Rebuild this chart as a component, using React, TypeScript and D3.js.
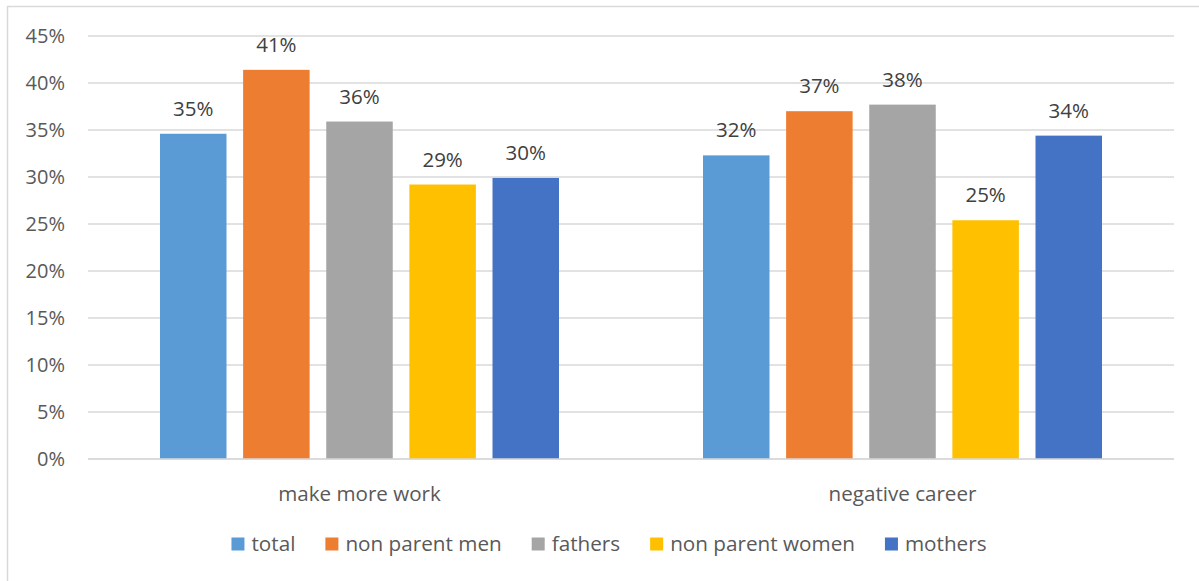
import React, { useEffect, useRef } from 'react';
import * as d3 from 'd3';

const categories = ['make more work', 'negative career'];
const seriesNames = ['total', 'non parent men', 'fathers', 'non parent women', 'mothers'];
const seriesColors = ['#5B9BD5', '#ED7D31', '#A5A5A5', '#FFC000', '#4472C4'];
// values per series, one per category
const total = [0.346, 0.323];
const nonParentMen = [0.414, 0.370];
const fathers = [0.359, 0.377];
const nonParentWomen = [0.292, 0.254];
const mothers = [0.299, 0.344];
const yTicks = [0, 0.05, 0.1, 0.15, 0.2, 0.25, 0.3, 0.35, 0.4, 0.45];

const W = 1199;
const H = 581;
const FONT = '"Open Sans", "Noto Sans", sans-serif';

const App: React.FC = () => {
  const ref = useRef<SVGSVGElement>(null);

  useEffect(() => {
    if (!ref.current) return;
    const svg = d3.select(ref.current);
    svg.selectAll('*').remove();

    const values = [total, nonParentMen, fathers, nonParentWomen, mothers];
    const rows = categories.map((c, ci) => ({
      category: c,
      bars: seriesNames.map((s, si) => ({ series: s, idx: si, value: values[si][ci] })),
    }));

    const left = 88, right = 1174, top = 36, bottom = 459;

    // chart border (only top/left show in the frame)
    svg.append('rect')
      .attr('x', 7.5).attr('y', 6.5)
      .attr('width', W + 20).attr('height', H + 20)
      .attr('fill', '#fff').attr('stroke', '#d9d9d9').attr('stroke-width', 1.5);

    const x0 = d3.scaleBand<string>().domain(categories).range([left, right]);
    const x1 = d3.scaleBand<string>().domain(seriesNames)
      .range([72, x0.bandwidth() - 72]).paddingInner(0.2);
    const y = d3.scaleLinear().domain([0, 0.45]).range([bottom, top]);

    // gridlines
    svg.append('g').selectAll('line')
      .data(yTicks)
      .enter().append('line')
      .attr('x1', left).attr('x2', right)
      .attr('y1', d => y(d)).attr('y2', d => y(d))
      .attr('stroke', '#d9d9d9').attr('stroke-width', 1.5);

    // y tick labels
    svg.append('g').selectAll('text')
      .data(yTicks)
      .enter().append('text')
      .attr('x', 65).attr('y', d => y(d))
      .attr('dy', '0.36em')
      .attr('text-anchor', 'end')
      .attr('font-family', FONT).attr('font-size', 20)
      .attr('fill', '#595959')
      .text(d => d3.format('.0%')(d));

    const group = svg.append('g').selectAll('g')
      .data(rows)
      .enter().append('g')
      .attr('transform', d => `translate(${x0(d.category)},0)`);

    group.selectAll('rect')
      .data(d => d.bars)
      .enter().append('rect')
      .attr('x', d => x1(d.series)!)
      .attr('y', d => y(d.value))
      .attr('width', x1.bandwidth())
      .attr('height', d => bottom - y(d.value))
      .attr('fill', d => seriesColors[d.idx]);

    group.selectAll('text')
      .data(d => d.bars)
      .enter().append('text')
      .attr('x', d => x1(d.series)! + x1.bandwidth() / 2)
      .attr('y', d => y(d.value) - 18)
      .attr('text-anchor', 'middle')
      .attr('font-family', FONT).attr('font-size', 20.5)
      .attr('fill', '#404040')
      .text(d => d3.format('.0%')(d.value));

    // axis line
    svg.append('line')
      .attr('x1', left).attr('x2', right)
      .attr('y1', bottom).attr('y2', bottom)
      .attr('stroke', '#d9d9d9').attr('stroke-width', 1.5);

    // category labels
    svg.append('g').selectAll('text')
      .data(categories)
      .enter().append('text')
      .attr('x', d => x0(d)! + x0.bandwidth() / 2)
      .attr('y', 501)
      .attr('text-anchor', 'middle')
      .attr('font-family', FONT).attr('font-size', 20.6)
      .attr('fill', '#595959')
      .text(d => d);

    // legend: square + label, laid out by measured text widths, centred
    const legend = svg.append('g');
    const items = legend.selectAll('g')
      .data(seriesNames)
      .enter().append('g');
    items.append('rect')
      .attr('y', 537.5)
      .attr('width', 13).attr('height', 13)
      .attr('fill', (_d, i) => seriesColors[i]);
    const labels = items.append('text')
      .attr('x', 20).attr('y', 551)
      .attr('font-family', FONT).attr('font-size', 20.7)
      .attr('fill', '#595959')
      .text(d => d);
    const widths = labels.nodes().map(n => (n as SVGTextElement).getComputedTextLength());
    const gap = 30;
    const offsets: number[] = [];
    let acc = 0;
    widths.forEach(w => { offsets.push(acc); acc += 20 + w + gap; });
    const totalW = acc - gap;
    const start = 609 - totalW / 2;
    items.attr('transform', (_d, i) => `translate(${start + offsets[i]},0)`);
  }, []);

  return (
    <svg ref={ref} width={W} height={H}
      style={{ position: 'absolute', left: 0, top: 0, display: 'block' }} />
  );
};

export default App;
